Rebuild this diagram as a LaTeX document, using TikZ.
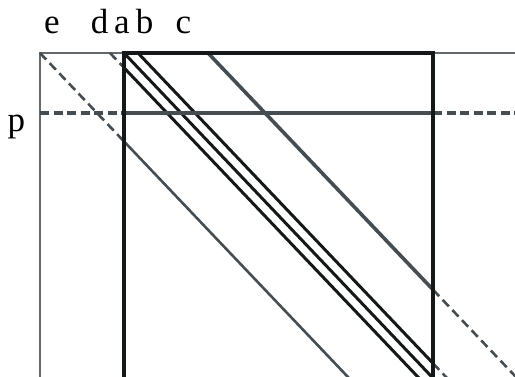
\documentclass[tikz,border=0pt]{standalone}
\usepackage{fontspec}
\setmainfont{Liberation Serif}
\definecolor{lgray}{RGB}{100,105,110}
\definecolor{dgray}{RGB}{70,77,82}
\definecolor{blk}{RGB}{20,24,24}
\begin{document}
\begin{tikzpicture}[x=1pt,y=-1pt,
  thinframe/.style={draw=lgray,line width=1.8pt},
  thickbox/.style={draw=blk,line width=4pt},
  blkline/.style={draw=blk,line width=3pt},
  grayline/.style={draw=dgray,line width=3.6pt},
  grayln/.style={draw=dgray,line width=2.6pt},
  dashln/.style={draw=dgray,line width=2.6pt,dash pattern=on 9pt off 5pt},
  dashh/.style={draw=dgray,line width=3.4pt,dash pattern=on 9pt off 4.5pt},
  lbl/.style={font=\fontsize{35}{35}\selectfont,anchor=base,inner sep=0pt}]
\useasboundingbox (0,0) rectangle (515,376);
\clip (0,0) rectangle (515,376);
% coordinates
\coordinate (F0) at (40,53);
\coordinate (Ftr) at (516,53);
\coordinate (Fbl) at (40,380);
\coordinate (S0) at (124,53);
\coordinate (S1) at (433,53);
\coordinate (Sbl) at (124,380);
\coordinate (Sbr) at (433,380);
\coordinate (P0) at (40,113);
\coordinate (P1) at (124,113);
\coordinate (P2) at (433,113);
\coordinate (P3) at (516,113);
\coordinate (E1) at (124,141.4);
\coordinate (E2) at (350.8,380);
\coordinate (D0) at (110,53);
\coordinate (D1) at (124,67.7);
\coordinate (D2) at (420.8,380);
\coordinate (A2) at (434.8,380);
\coordinate (B0) at (138,53);
\coordinate (B1) at (433,363.3);
\coordinate (B2) at (450,381.2);
\coordinate (C0) at (208,53);
\coordinate (C1) at (433,289.7);
\coordinate (C2) at (520,381.2);
% thin frame
\draw[thinframe] (Fbl) -- (F0) -- (Ftr);
% dashed parts
\draw[dashln] (F0) -- (E1);
\draw[dashln] (D0) -- (D1);
\draw[dashln] (B1) -- (B2);
\draw[dashln] (C1) -- (C2);
\draw[dashh] (P0) -- (P1);
\draw[dashh] (P2) -- (P3);
% solid diagonals
\draw[grayln] (E1) -- (E2);
\draw[blkline] (D1) -- (D2);
\draw[blkline] (S0) -- (A2);
\draw[blkline] (B0) -- (B1);
\draw[grayline] (C0) -- (C1);
% p line
\draw[grayline] (P1) -- (P2);
% thick box
\draw[thickbox] (Sbl) -- (S0) -- (S1) -- (Sbr);
% labels
\node[lbl] (le) at (52,33) {e};
\node[lbl] (ld) at (99.5,33) {d};
\node[lbl] (la) at (122,33) {a};
\node[lbl] (lb) at (144.5,33) {b};
\node[lbl] (lc) at (183.5,33) {c};
\node[lbl] (lp) at (16.5,131) {p};
\end{tikzpicture}
\end{document}
